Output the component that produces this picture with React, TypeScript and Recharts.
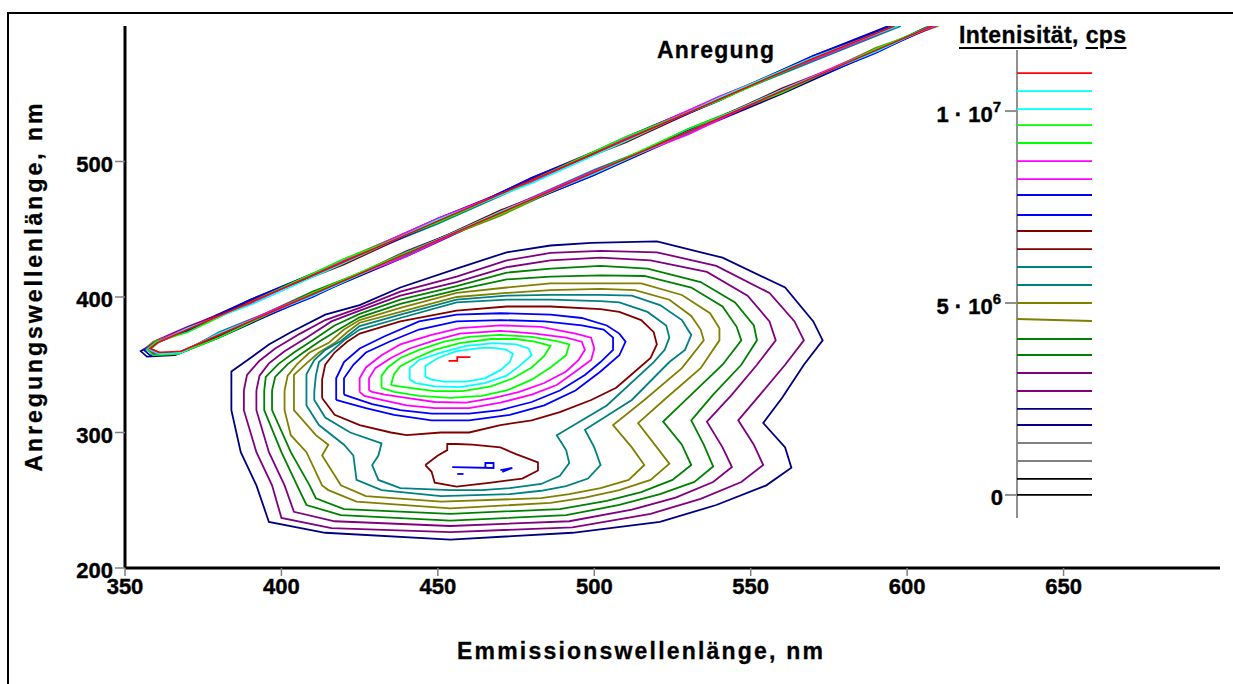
import React from "react"
import { ScatterChart, Scatter, XAxis, YAxis } from "recharts"

type Pt = [number, number]

const FONT = "'Liberation Sans', Arial, Helvetica, sans-serif"

const xTicks = [350, 400, 450, 500, 550, 600, 650]
const yTicks = [200, 300, 400, 500]
const legendTicks = [0, 5000000, 10000000]

// contour lines, emission nm / excitation nm, outer -> inner
const navyRing: Pt[] = [[384,331],[384,345],[391,356.5],[396,365],[403,374],[414,387],[425,394],[438,407],[456,421],[472,433],[486,438],[499,440],[520,441],[541,429],[561,407],[570,382],[573,368],[567,350],[560,325.5],[554,307],[561,289],[563,274],[555,261],[539,246.5],[521,234],[493,226],[454,221],[414,226],[396,234],[392,261],[387,285.5],[384,316.5],[384,331]]
const purpleRingA: Pt[] = [[388,331],[389,342.5],[393,353],[398,362],[406,373],[414,383],[425,392],[438,404],[456,415],[472,427],[486,432.5],[502,434],[520,433],[539,423],[556,403],[564,382],[567,368],[561,350],[553,328],[546,309],[551,291],[554,276],[547,263.5],[534,251],[518,240],[493,230],[454,226.5],[416,229.5],[400,237],[397,261],[392,285.5],[388,316.5],[388,331]]
const purpleRingB: Pt[] = [[392,331],[393,342],[396,351],[401,360],[408,370],[416,382],[425,390],[438,401],[456,411],[472,422],[486,427],[502,429],[518,427],[536,418.5],[549,401],[556,382],[558,368],[552,350],[544,328],[536,308],[541,289],[544,274.5],[538,263.5],[526,252],[512,243],[492,234.5],[454,231],[417,234.5],[404,241.5],[401,261],[396,285.5],[392,316.5],[392,331]]
const greenRingA: Pt[] = [[394.5,331],[395,341],[399,350.5],[404,359],[410,368],[417,379],[425,387.5],[438,398],[456,408],[472,418],[486,421],[502,423],[517,421],[534,411],[545,396],[551,379],[552,368],[547,350],[538,328],[531,309],[535,291],[538,275],[532,263.5],[521,254.5],[508,246.5],[491,239],[454,235],[419,239],[408,246.5],[405,261],[400,285.5],[394.5,316.5],[394.5,331]]
const greenRingB: Pt[] = [[397,331],[398,341],[402,350.5],[407,359],[412,367],[419,377],[425,385],[438,395],[456,405],[472,413],[486,415],[502,416],[516,415.5],[531,407],[541,393],[545.5,378],[547,368],[541,350],[531,328],[522,308],[528,291],[531,276],[525,265],[515,256],[504,249.5],[489,243.5],[454,240],[420,243.5],[411,251.5],[409,261],[403,285.5],[397,316.5],[397,331]]
const oliveRingA: Pt[] = [[401,331],[402,342],[405,350.5],[409,359],[415,366],[420,376],[425,383],[438,392],[456,403],[472,407],[486,410],[502,410],[515,410],[528,401.5],[537,388],[540,377],[540,368],[534,347.5],[523,325.5],[514,307],[520,289],[524,277],[518,265],[508,257.5],[497,252],[486,248],[454,244],[424,249],[415,257.5],[413,261],[408,285.5],[403,298],[401,316.5],[401,331]]
const oliveRingB: Pt[] = [[404,331],[404,342.5],[408,351],[412,359],[417,366],[421,374],[425,381],[438,389],[456,400],[472,403],[486,405],[502,406],[513,405],[524,398],[531,386],[534,376],[535,368],[528,347.5],[516,324],[506,305.5],[512,289],[516,276],[511,265],[502,259],[492,254.5],[483,251.5],[451,249],[427,253],[419,261],[417,268.5],[413,283],[415,291],[411,298],[404,316.5],[404,331]]
const tealRingA: Pt[] = [[408,331],[408,343],[410.5,353.5],[414,361],[419,367.5],[425,378.5],[438,387],[456,398],[472,401],[486,401.5],[502,401.5],[512,401],[521,394],[528,383],[531,372],[529,361],[524,352],[512,324],[497,302],[500,289],[502,276],[498,266],[491,260.5],[483,257],[473,254.5],[451,253],[432,257.5],[424,265],[423,283],[420,291],[412,305.5],[408,320],[408,331]]
const tealRingB: Pt[] = [[410.5,330],[411,342],[412,352],[416,360],[420,368],[425,376],[438,384.5],[456,396],[472,398],[486,398],[502,397],[508,396],[517,389],[523,379],[524,370],[522.5,361],[519,352],[504,320],[488,298],[491,287],[492,277.5],[489,268],[483,262],[473,259],[464,257.5],[454,257.5],[438,259],[431,265],[429,276],[431,283],[432,292],[422,300],[414,311],[410.5,324],[410.5,330]]
const maroonRing: Pt[] = [[413,325.5],[413,339],[414,350],[417,359],[421,367],[425,373],[438,382],[456,390],[472,393],[486,393],[502,391],[508,389],[515,383],[519,374],[520,365],[518,355],[513,345],[507,333],[499,324],[489,315],[480,309],[470,305.5],[460,300],[451,300],[440,298],[435,300],[425,305.5],[417,313],[413,325.5]]
const maroonLobe: Pt[] = [[446,276],[450,283],[453,287],[453,291.5],[456,291.5],[461,291],[470,289],[475,284],[482,278],[482,272],[477,266],[467,263],[456,260],[449,263],[448,271],[446,276]]
const blueRingA: Pt[] = [[417.5,324],[417.5,340],[420,352],[425,362],[433,371],[444,382],[456,387],[470,388],[486,387],[496,384.5],[504,379],[508,373],[510,367],[508,357],[502,345],[494,331],[484,320],[473,313],[460,309],[448,309],[436,313],[427,318],[420,322.5],[417.5,324]]
const blueRingB: Pt[] = [[420,328],[420,340],[423,350],[427,359],[435,367.5],[444,376],[456,382],[470,383],[484,382],[496,379],[503,376],[506,370],[506,361],[502,352],[497,342.5],[489,331],[480,322.5],[470,316.5],[460,314],[448,314],[438,316.5],[429,321],[423,325.5],[420,328]]
const magentaRingA: Pt[] = [[425,330],[425,340],[427,348],[432,357],[438,365],[448,372],[457,377],[470,379],[483,378],[494,373],[499,370],[500,362],[499,353.5],[494,345],[488,335],[480,328],[470,322],[460,318],[449,318],[440,320],[432,324],[426.5,327],[425,330]]
const magentaRingB: Pt[] = [[428,331],[428,340],[430,347.5],[435,355],[441,362],[449,368],[457,373],[470,375],[481,373],[491,370],[496,367],[497,361],[495,353.5],[491,345],[484,336.5],[476,330],[468,325.5],[459,322],[449,322.5],[440,325.5],[433,328],[429,330],[428,331]]
const limeRingA: Pt[] = [[432,333],[432,342],[434,348],[438,355],[444,361],[452,367],[460,370.5],[470,372],[480,370.5],[488,367.5],[492,365],[491,357],[486,348],[480,339],[472,331],[464,327],[454,325.5],[444,327],[436,330],[432,333]]
const limeRingB: Pt[] = [[435,335],[436,343],[438,349],[443,355],[449,361],[457,366],[467,369],[475,369],[481,367],[486,364],[484,356.5],[480,348],[474,340],[467,334],[458,330.5],[449,330.5],[441,333],[435,335]]
const cyanRingA: Pt[] = [[441,339],[441,347.5],[444,353.5],[451,359],[459,364],[468,366],[475,365],[479,362],[480,357],[476,349],[472,342],[465,336.5],[457,333.5],[449,334],[443,336.5],[441,339]]
const cyanRingB: Pt[] = [[446,341],[446,349],[450,355],[456,360],[464,362.5],[468,362.5],[472,361],[474,358],[473,352],[470,346],[465,340],[459,337.5],[452,337.5],[448,339],[446,341]]
const redMark: Pt[] = [[453.4,352.8],[456.2,352.8],[456.2,355.7],[460.4,355.7]]
const blueMarkA: Pt[] = [[454.6,274.5],[467.8,273.8],[467.8,277.5],[465.2,277.5],[465.2,274.5]]
const blueMarkB: Pt[] = [[456.2,269.4],[458.2,269.4]]
const blueMarkC: Pt[] = [[470,272.3],[473.8,273.8],[470.6,271]]

// scatter ridge (emission = excitation), all levels nearly on top of each other
const ridgeNavy: Pt[] = [[594,600],[570,578],[540,547],[510,518],[480,486],[450,458],[420,427],[390,398],[370,377],[360,367],[355,360],[357,356],[366,357],[380,370],[410,401],[440,430],[470,462],[500,490],[530,521],[560,550],[590,581],[606,599]]
const ridgePurple: Pt[] = [[596,600],[570,577],[540,545],[510,517],[480,488],[450,455],[420,427],[390,396],[370,378],[360,368],[357,362],[359,358],[367,358],[380,373],[410,401],[440,434],[470,461],[500,493],[530,522],[560,551],[590,583],[609,600]]
const ridgeGreen: Pt[] = [[597,600],[570,575],[540,547],[510,515],[480,487],[450,456],[420,425],[390,397],[370,375],[361,368],[357,361],[360,357],[368,359],[380,372],[410,404],[440,431],[470,463],[500,491],[530,524],[560,552],[590,581],[608,600]]
const ridgeOlive: Pt[] = [[595,600],[570,576],[540,548],[510,516],[480,485],[450,457],[420,428],[390,395],[370,376],[359,367],[356,361],[358,357],[367,358],[380,371],[410,402],[440,433],[470,460],[500,492],[530,523],[560,551],[590,584],[610,600]]
const ridgeTeal: Pt[] = [[598,600],[570,574],[540,546],[510,517],[480,485],[450,454],[420,426],[390,397],[370,375],[360,366],[358,361],[361,358],[369,360],[380,374],[410,402],[440,431],[470,463],[500,494],[530,521],[560,553],[590,582],[607,600]]
const ridgeMaroon: Pt[] = [[596,600],[570,577],[540,546],[510,514],[480,487],[450,456],[420,424],[390,397],[370,376],[361,367],[358,362],[361,359],[368,359],[380,371],[410,403],[440,432],[470,464],[500,491],[530,522],[560,554],[590,581],[609,600]]
const ridgeBlue: Pt[] = [[595,600],[570,578],[540,545],[510,516],[480,488],[450,455],[420,426],[390,398],[370,375],[360,367],[356,361],[358,357],[366,358],[380,372],[410,400],[440,433],[470,462],[500,490],[530,523],[560,552],[590,580],[608,600]]
const ridgeMagenta: Pt[] = [[597,600],[570,575],[540,548],[510,517],[480,485],[450,458],[420,427],[390,395],[370,377],[360,367],[357,362],[360,358],[368,359],[380,373],[410,403],[440,430],[470,463],[500,493],[530,520],[560,553],[590,583],[609,600]]
const ridgeLime: Pt[] = [[596,600],[570,576],[540,545],[510,518],[480,486],[450,455],[420,428],[390,396],[370,374],[360,367],[357,361],[359,357],[367,358],[380,370],[410,403],[440,433],[470,461],[500,492],[530,524],[560,551],[590,583],[608,600]]
const ridgeCyan: Pt[] = [[597,600],[570,577],[540,547],[510,515],[480,484],[450,457],[420,425],[390,394],[370,377],[361,367],[358,361],[361,358],[368,359],[380,373],[410,401],[440,432],[470,463],[500,491],[530,522],[560,553],[590,581],[607,599]]
const ridgeRed: Pt[] = [[596,600],[570,576],[540,546],[510,516],[480,486],[450,456],[420,426],[390,396],[370,376],[361,367],[358,362],[361,359],[368,360],[380,372],[410,402],[440,432],[470,462],[500,492],[530,522],[560,552],[590,582],[608,600]]

// colour scale, cps
const legendLevels = [0, 417000, 885000, 1354000, 1823000, 2240000, 2708000, 3177000, 3646000, 4063000, 4583000, 5000000, 5469000, 5938000, 6406000, 6875000, 7292000, 7813000, 8229000, 8698000, 9167000, 9635000, 10052000, 10521000, 10990000]
const legendLevelEnds = [0, 417000, 885000, 1354000, 1823000, 2240000, 2708000, 3177000, 3646000, 4063000, 4531000, 5000000, 5469000, 5938000, 6406000, 6875000, 7292000, 7813000, 8229000, 8698000, 9167000, 9635000, 10052000, 10521000, 10990000]

const BLACK = "#000000"
const GRAY = "#808080"
const NAVY = "#000080"
const PURPLE = "#800080"
const GREEN = "#008000"
const OLIVE = "#808000"
const TEAL = "#008080"
const MAROON = "#800000"
const BLUE = "#0000ff"
const MAGENTA = "#ff00ff"
const LIME = "#00ff00"
const CYAN = "#00ffff"
const RED = "#ff0000"

const legendColors = [BLACK, BLACK, GRAY, GRAY, NAVY, NAVY, PURPLE, PURPLE, GREEN, GREEN, OLIVE, OLIVE, TEAL, TEAL, MAROON, MAROON, BLUE, BLUE, MAGENTA, MAGENTA, LIME, LIME, CYAN, CYAN, RED]

const blobSeries = [
  { pts: navyRing, color: NAVY },
  { pts: purpleRingA, color: PURPLE },
  { pts: purpleRingB, color: PURPLE },
  { pts: greenRingA, color: GREEN },
  { pts: greenRingB, color: GREEN },
  { pts: oliveRingA, color: OLIVE },
  { pts: oliveRingB, color: OLIVE },
  { pts: tealRingA, color: TEAL },
  { pts: tealRingB, color: TEAL },
  { pts: maroonRing, color: MAROON },
  { pts: maroonLobe, color: MAROON },
  { pts: blueRingA, color: BLUE },
  { pts: blueRingB, color: BLUE },
  { pts: magentaRingA, color: MAGENTA },
  { pts: magentaRingB, color: MAGENTA },
  { pts: limeRingA, color: LIME },
  { pts: limeRingB, color: LIME },
  { pts: cyanRingA, color: CYAN },
  { pts: cyanRingB, color: CYAN },
  { pts: redMark, color: RED },
  { pts: blueMarkA, color: BLUE },
  { pts: blueMarkB, color: BLUE },
  { pts: blueMarkC, color: BLUE },
]

const ridgeSeries = [
  { pts: ridgeNavy, color: NAVY },
  { pts: ridgePurple, color: PURPLE },
  { pts: ridgeGreen, color: GREEN },
  { pts: ridgeOlive, color: OLIVE },
  { pts: ridgeTeal, color: TEAL },
  { pts: ridgeMaroon, color: MAROON },
  { pts: ridgeBlue, color: BLUE },
  { pts: ridgeMagenta, color: MAGENTA },
  { pts: ridgeLime, color: LIME },
  { pts: ridgeCyan, color: CYAN },
  { pts: ridgeRed, color: RED },
]

const toPoints = (pts: Pt[]) => pts.map(([x, y]) => ({ x, y }))
const noDot = () => null

const XTick = ({ x, y, payload }: any) => (
  <text x={x} y={y} dy={16} textAnchor="middle" fill="#000" stroke="#000" strokeWidth={0.4} fontSize={22} fontWeight="bold" fontFamily={FONT}>
    {payload.value}
  </text>
)

const YTick = ({ x, y, payload }: any) => (
  <text x={x} y={y} dy={10} textAnchor="end" fill="#000" stroke="#000" strokeWidth={0.4} fontSize={22} fontWeight="bold" fontFamily={FONT}>
    {payload.value}
  </text>
)

const LegendTick = ({ x, y, payload }: any) => {
  const v = payload.value
  if (v === 0) {
    return (
      <text x={x + 2} y={y} dy={10} textAnchor="end" fill="#000" stroke="#000" strokeWidth={0.4} fontSize={22} fontWeight="bold" fontFamily={FONT}>
        0
      </text>
    )
  }
  const exp = Math.floor(Math.log10(v))
  const mant = Math.round(v / Math.pow(10, exp))
  return (
    <text x={x} y={y} dy={11} textAnchor="end" fill="#000" stroke="#000" strokeWidth={0.4} fontSize={22} fontWeight="bold" fontFamily={FONT}>
      <tspan>{`${mant} \u00b7 10`}</tspan>
      <tspan dy={-10} fontSize={15}>{exp}</tspan>
    </text>
  )
}

const textBase: React.CSSProperties = {
  position: "absolute",
  fontFamily: FONT,
  fontWeight: "bold",
  fontSize: 23,
  lineHeight: "23px",
  color: "#000",
  whiteSpace: "nowrap",
  WebkitTextStroke: "0.3px #000",
}

export default function App() {
  return (
    <div style={{ position: "absolute", left: 0, top: 0, width: 1233, height: 684, overflow: "hidden", background: "#fff" }}>
      <div style={{ position: "absolute", left: 7, top: 12, width: 1400, height: 900, border: "2px solid #000" }} />

      <div style={{ position: "absolute", left: 0, top: 0 }}>
        <ScatterChart width={1233} height={684} margin={{ top: 26, right: 13, bottom: 86, left: 65 }}>
          <XAxis
            type="number"
            dataKey="x"
            domain={[350, 700]}
            ticks={xTicks}
            interval={0}
            allowDataOverflow
            height={30}
            tickSize={8}
            axisLine={{ stroke: "#000", strokeWidth: 3 }}
            tickLine={{ stroke: "#808080", strokeWidth: 1.5 }}
            tick={<XTick />}
          />
          <YAxis
            type="number"
            dataKey="y"
            domain={[200, 600]}
            ticks={yTicks}
            interval={0}
            allowDataOverflow
            width={60}
            tickSize={10}
            axisLine={{ stroke: "#000", strokeWidth: 3 }}
            tickLine={{ stroke: "#808080", strokeWidth: 1.5 }}
            tick={<YTick />}
          />
          {blobSeries.map((s, i) => (
            <Scatter
              key={"blob" + i}
              data={toPoints(s.pts)}
              fill={s.color}
              line={{ stroke: s.color, strokeWidth: 1.8 }}
              shape={noDot}
              isAnimationActive={false}
            />
          ))}
          {ridgeSeries.map((s, i) => (
            <Scatter
              key={"ridge" + i}
              data={toPoints(s.pts)}
              fill={s.color}
              line={{ stroke: s.color, strokeWidth: 1.6 }}
              shape={noDot}
              isAnimationActive={false}
            />
          ))}
        </ScatterChart>
      </div>

      <div style={{ position: "absolute", left: 900, top: 40 }}>
        <ScatterChart width={200} height={490} margin={{ top: 10, right: 8, bottom: 12, left: 17 }}>
          <XAxis type="number" dataKey="x" domain={[0, 1]} hide />
          <YAxis
            type="number"
            dataKey="y"
            domain={[-600000, 11590000]}
            ticks={legendTicks}
            interval={0}
            allowDataOverflow
            width={100}
            tickSize={12}
            tickMargin={4}
            axisLine={{ stroke: "#909090", strokeWidth: 2 }}
            tickLine={{ stroke: "#909090", strokeWidth: 2 }}
            tick={<LegendTick />}
          />
          {legendLevels.map((v, i) => (
            <Scatter
              key={"lev" + i}
              data={[{ x: 0, y: v }, { x: 1, y: legendLevelEnds[i] }]}
              fill={legendColors[i]}
              line={{ stroke: legendColors[i], strokeWidth: 1.8 }}
              shape={noDot}
              isAnimationActive={false}
            />
          ))}
        </ScatterChart>
      </div>

      <div style={{ ...textBase, left: 657, top: 39, letterSpacing: 1.2 }}>Anregung</div>
      <div style={{ ...textBase, left: 959, top: 24, letterSpacing: 0.4 }}>
        <span style={{ textDecoration: "underline", textDecorationThickness: 2, textUnderlineOffset: 4 }}>Intenisität</span>
        {", "}
        <span style={{ textDecoration: "underline", textDecorationThickness: 2, textUnderlineOffset: 4 }}>cps</span>
      </div>
      <div style={{ ...textBase, left: 457, top: 640, letterSpacing: 2.2 }}>Emmissionswellenlänge, nm</div>
      <div
        style={{
          ...textBase,
          left: 34 - 200,
          top: 286 - 14,
          width: 400,
          height: 28,
          lineHeight: "28px",
          textAlign: "center",
          letterSpacing: 3,
          transform: "rotate(-90deg)",
        }}
      >
        Anregungswellenlänge, nm
      </div>
    </div>
  )
}
